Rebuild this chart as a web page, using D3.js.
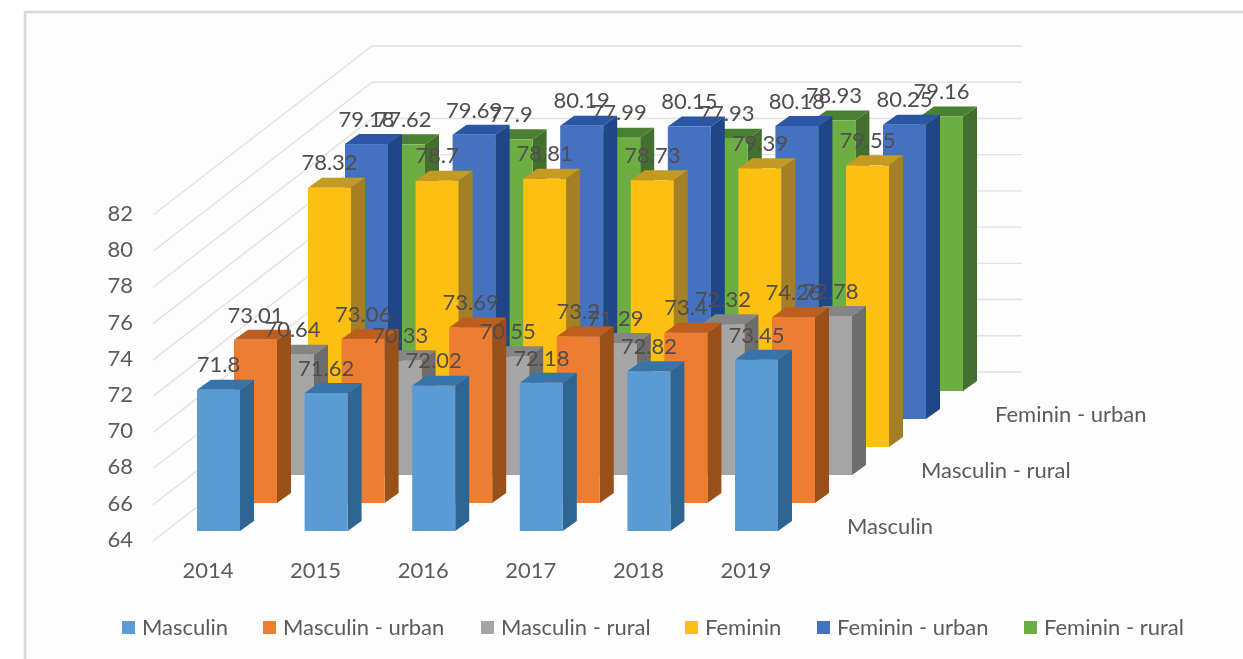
<!DOCTYPE html>
<html><head><meta charset="utf-8">
<script src="https://cdn.jsdelivr.net/npm/d3@7/dist/d3.min.js"></script>
<style>
html,body{margin:0;padding:0;background:#fff;overflow:hidden}
svg{display:block;font-family:Lato,"Open Sans",sans-serif;filter:blur(0.45px)}
</style></head><body>
<script>
const years = ["2014","2015","2016","2017","2018","2019"];
const seriesNames = ["Masculin","Masculin - urban","Masculin - rural","Feminin","Feminin - urban","Feminin - rural"];
const masculin = [71.8,71.62,72.02,72.18,72.82,73.45];
const masculinUrban = [73.01,73.06,73.69,73.2,73.4,74.26];
const masculinRural = [70.64,70.33,70.55,71.29,72.32,72.78];
const feminin = [78.32,78.7,78.81,78.73,79.39,79.55];
const femininUrban = [79.18,79.69,80.19,80.15,80.18,80.25];
const femininRural = [77.62,77.9,77.99,77.93,78.93,79.16];
const yTicks = [64,66,68,70,72,74,76,78,80,82];
const depthLabels = ["Masculin","Masculin - rural","Feminin - urban"];
const faceColors = ["#5b9bd5","#ed7d31","#a5a5a5","#fdc010","#4472c0","#6cae41"];
const sideColors = ["#2f6592","#9a5019","#6d6d6d","#a47f24","#1e4688","#44702f"];
const topColors  = ["#3873a9","#bd5e1f","#858585","#c39a22","#2b55a5","#4a8032"];
const legendX = [122,263,481,685,817,1024];

const allSeries = [masculin,masculinUrban,masculinRural,feminin,femininUrban,femininRural];
const W=1243,H=659;
const svg=d3.select("body").append("svg").attr("width",W).attr("height",H);
const textColor="#5f5a5a", gridColor="#e6e0e0", fontSize=22;

// frame
svg.append("rect").attr("x",25).attr("y",12).attr("width",W+20).attr("height",H+20).attr("fill","#fdfdfd")
  .attr("stroke","#dcd7d7").attr("stroke-width",2.6);

// scales
const xYear=d3.scalePoint().domain(years).range([197,735]);
const h=d3.scaleLinear().domain([64,82]).range([0,-326]);
const depth=d3.scaleLinear().domain([0,5]).range([0,185]);
const lift=d3.scaleLinear().domain([0,5]).range([0,-140]);
const barW=43, dX=14, dY=-10, baseY=531;

// gridlines (side wall and back wall)
const wallFront={x:153,y:541}, wallBack={x:372,y:372}, wallRight=1022;
const grid=svg.append("g").attr("fill","none").attr("stroke",gridColor).attr("stroke-width",1.4);
grid.selectAll("path").data(yTicks).join("path").attr("d",t=>{
  const o=h(t);
  return `M${wallFront.x},${wallFront.y+o}L${wallBack.x},${wallBack.y+o}L${wallRight},${wallBack.y+o}`;
});

// axis labels
svg.append("g").selectAll("text").data(yTicks).join("text")
  .attr("x",133).attr("y",t=>wallFront.y+h(t)).attr("dy","0.27em").attr("text-anchor","end")
  .attr("font-size",fontSize).attr("fill",textColor).text(t=>t);
svg.append("g").selectAll("text").data(years).join("text")
  .attr("x",y=>xYear(y)+11).attr("y",570).attr("dy","0.35em").attr("text-anchor","middle")
  .attr("font-size",fontSize).attr("fill",textColor).text(y=>y);
const depthLabelScale=d3.scaleLinear().domain([0,2]).range([0,148]);
svg.append("g").selectAll("text").data(depthLabels).join("text")
  .attr("x",(d,i)=>847+depthLabelScale(i)).attr("y",(d,i)=>526-depthLabelScale(i)*0.757)
  .attr("dy","0.35em").attr("font-size",fontSize).attr("fill",textColor).text(d=>d);

// bars back to front
const bars=svg.append("g");
d3.range(5,-1,-1).forEach(s=>{
  const g=bars.append("g");
  years.forEach((yr,i)=>{
    const v=allSeries[s][i];
    const x=xYear(yr)+depth(s), yb=baseY+lift(s), yt=yb+h(v);
    g.append("path").attr("fill",sideColors[s])
      .attr("d",`M${x+barW},${yt}L${x+barW+dX},${yt+dY}L${x+barW+dX},${yb+dY}L${x+barW},${yb}Z`);
    g.append("path").attr("fill",topColors[s])
      .attr("d",`M${x},${yt}L${x+dX},${yt+dY}L${x+barW+dX},${yt+dY}L${x+barW},${yt}Z`);
    g.append("rect").attr("fill",faceColors[s]).attr("x",x).attr("y",yt).attr("width",barW).attr("height",yb-yt);
  });
});

// data labels
const labels=svg.append("g");
allSeries.forEach((vals,s)=>{
  years.forEach((yr,i)=>{
    labels.append("text")
      .attr("x",xYear(yr)+depth(s)+barW/2).attr("y",baseY+lift(s)+h(vals[i])-25)
      .attr("dy","0.35em").attr("text-anchor","middle")
      .attr("font-size",fontSize).attr("fill","#524d4d").text(vals[i]);
  });
});

// legend
const leg=svg.append("g").selectAll("g").data(seriesNames).join("g");
leg.append("rect").attr("x",(d,i)=>legendX[i]).attr("y",621).attr("width",13).attr("height",13)
  .attr("fill",(d,i)=>faceColors[i]);
leg.append("text").attr("x",(d,i)=>legendX[i]+20).attr("y",627).attr("dy","0.35em")
  .attr("font-size",fontSize).attr("fill",textColor).text(d=>d);
</script>
</body></html>
